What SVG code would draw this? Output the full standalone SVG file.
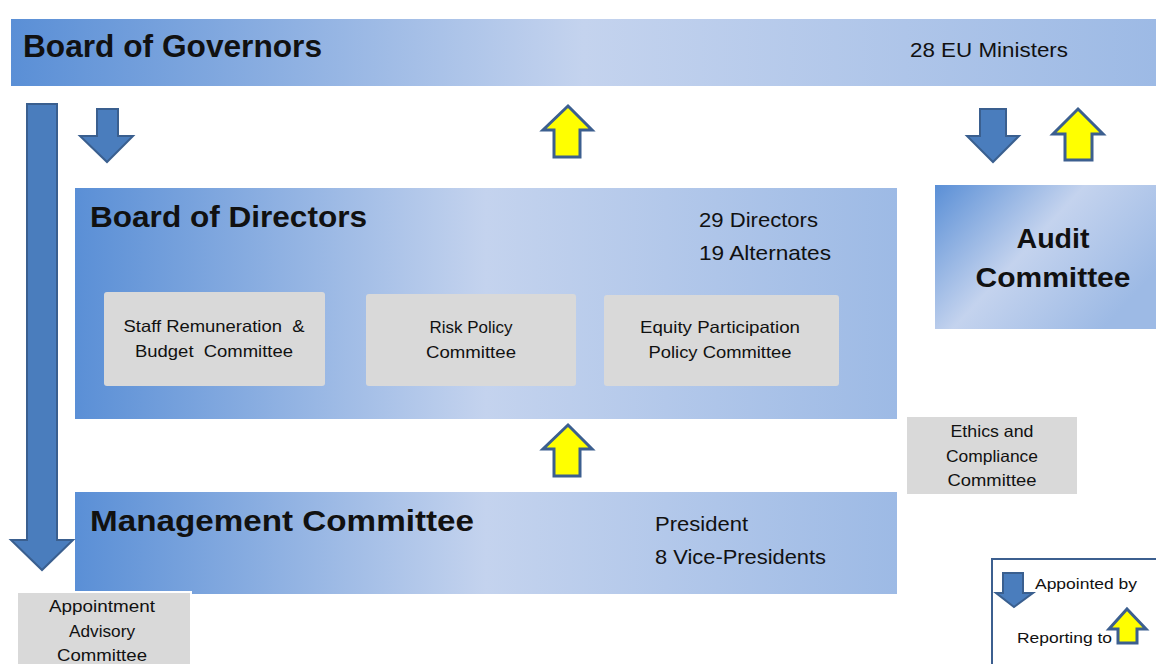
<svg xmlns="http://www.w3.org/2000/svg" width="1156" height="664" viewBox="0 0 1156 664">
<defs>
<linearGradient id="gH" x1="0" y1="0" x2="1" y2="0">
<stop offset="0" stop-color="#5a8fd6"/>
<stop offset="0.5" stop-color="#c4d3ee"/>
<stop offset="1" stop-color="#9dbae5"/>
</linearGradient>
<linearGradient id="gD" x1="0" y1="0" x2="1" y2="0.6">
<stop offset="0" stop-color="#5a8fd6"/>
<stop offset="0.5" stop-color="#c4d3ee"/>
<stop offset="1" stop-color="#9dbae5"/>
</linearGradient>
<style>
.t{font-family:"Liberation Sans",Arial,sans-serif;fill:#111;white-space:pre}
.b{font-weight:bold}
.down{fill:#4a7dbd;stroke:#3a5f8f;stroke-width:2;stroke-linejoin:miter}
.up{fill:#ffff00;stroke:#3c5f8f;stroke-width:3;stroke-linejoin:miter}
.grey{fill:#d9d9d9}
</style>
</defs>
<rect width="1156" height="664" fill="#ffffff"/>

<g id="governors">
<rect x="11" y="19" width="1145" height="67" fill="url(#gH)"/>
<text class="t b" x="23" y="57" font-size="32" textLength="299" lengthAdjust="spacingAndGlyphs">Board of Governors</text>
<text class="t" x="910" y="57" font-size="20" textLength="158" lengthAdjust="spacingAndGlyphs">28 EU Ministers</text>
</g>

<g id="directors">
<rect x="75" y="188" width="822" height="231" fill="url(#gH)"/>
<text class="t b" x="90" y="227" font-size="30" textLength="277" lengthAdjust="spacingAndGlyphs">Board of Directors</text>
<text class="t" x="699" y="227" font-size="21" textLength="119" lengthAdjust="spacingAndGlyphs">29 Directors</text>
<text class="t" x="699" y="260" font-size="21" textLength="132" lengthAdjust="spacingAndGlyphs">19 Alternates</text>
</g>

<g id="staff">
<rect class="grey" x="104" y="292" width="221" height="94" rx="3"/>
<text class="t" x="214" y="332" font-size="16.5" text-anchor="middle" textLength="181" lengthAdjust="spacingAndGlyphs">Staff Remuneration  &amp;</text>
<text class="t" x="214" y="357" font-size="16.5" text-anchor="middle" textLength="158" lengthAdjust="spacingAndGlyphs">Budget  Committee</text>
</g>
<g id="risk">
<rect class="grey" x="366" y="294" width="210" height="92" rx="3"/>
<text class="t" x="471" y="333" font-size="16.5" text-anchor="middle" textLength="83" lengthAdjust="spacingAndGlyphs">Risk Policy</text>
<text class="t" x="471" y="358" font-size="16.5" text-anchor="middle" textLength="90" lengthAdjust="spacingAndGlyphs">Committee</text>
</g>
<g id="equity">
<rect class="grey" x="604" y="295" width="235" height="91" rx="3"/>
<text class="t" x="720" y="333" font-size="16.5" text-anchor="middle" textLength="160" lengthAdjust="spacingAndGlyphs">Equity Participation</text>
<text class="t" x="720" y="358" font-size="16.5" text-anchor="middle" textLength="143" lengthAdjust="spacingAndGlyphs">Policy Committee</text>
</g>

<g id="audit">
<rect x="935" y="185" width="221" height="144" fill="url(#gD)"/>
<text class="t b" x="1053" y="248" font-size="28" text-anchor="middle" textLength="73" lengthAdjust="spacingAndGlyphs">Audit</text>
<text class="t b" x="1053" y="287" font-size="28" text-anchor="middle" textLength="155" lengthAdjust="spacingAndGlyphs">Committee</text>
</g>

<g id="ethics">
<rect class="grey" x="907" y="417" width="170" height="77"/>
<text class="t" x="992" y="437" font-size="16.5" text-anchor="middle" textLength="83" lengthAdjust="spacingAndGlyphs">Ethics and</text>
<text class="t" x="992" y="462" font-size="16.5" text-anchor="middle" textLength="92" lengthAdjust="spacingAndGlyphs">Compliance</text>
<text class="t" x="992" y="486" font-size="16.5" text-anchor="middle" textLength="89" lengthAdjust="spacingAndGlyphs">Committee</text>
</g>

<g id="management">
<rect x="75" y="492" width="822" height="102" fill="url(#gH)"/>
<text class="t b" x="90" y="531" font-size="30" textLength="384" lengthAdjust="spacingAndGlyphs">Management Committee</text>
<text class="t" x="655" y="531" font-size="21" textLength="93" lengthAdjust="spacingAndGlyphs">President</text>
<text class="t" x="655" y="564" font-size="21" textLength="171" lengthAdjust="spacingAndGlyphs">8 Vice-Presidents</text>
</g>

<g id="appointment">
<rect class="grey" x="17" y="592" width="174" height="80" stroke="#ffffff" stroke-width="2"/>
<text class="t" x="102" y="612" font-size="16.5" text-anchor="middle" textLength="106" lengthAdjust="spacingAndGlyphs">Appointment</text>
<text class="t" x="102" y="637" font-size="16.5" text-anchor="middle" textLength="66" lengthAdjust="spacingAndGlyphs">Advisory</text>
<text class="t" x="102" y="661" font-size="16.5" text-anchor="middle" textLength="90" lengthAdjust="spacingAndGlyphs">Committee</text>
</g>

<g id="connectors">
<polygon class="down" points="27,104 57,104 57,540 73,540 42,570 11,540 27,540"/>
<polygon class="down" points="97,109 118,109 118,136 133,136 107,162 80,136 97,136"/>
<polygon class="up" points="568,106 592,130 580,130 580,157 554,157 554,130 543,130"/>
<polygon class="down" points="980,109 1006,109 1006,136 1019,136 993,162 967,136 980,136"/>
<polygon class="up" points="1078,109 1103,134 1092,134 1092,160 1065,160 1065,134 1053,134"/>
<polygon class="up" points="568,425 592,449 580,449 580,476 554,476 554,449 543,449"/>
</g>

<g id="legend">
<rect x="992" y="559" width="170" height="110" fill="#ffffff" stroke="#3c5f8f" stroke-width="2"/>
<polygon class="down" points="1003,573 1023,573 1023,593 1033,593 1014,607 996,593 1003,593"/>
<text class="t" x="1035" y="589" font-size="15" textLength="102" lengthAdjust="spacingAndGlyphs">Appointed by</text>
<text class="t" x="1017" y="643" font-size="15" textLength="95" lengthAdjust="spacingAndGlyphs">Reporting to</text>
<polygon class="up" points="1127,609 1146,629 1137,629 1137,643 1118,643 1118,629 1109,629"/>
</g>
</svg>
